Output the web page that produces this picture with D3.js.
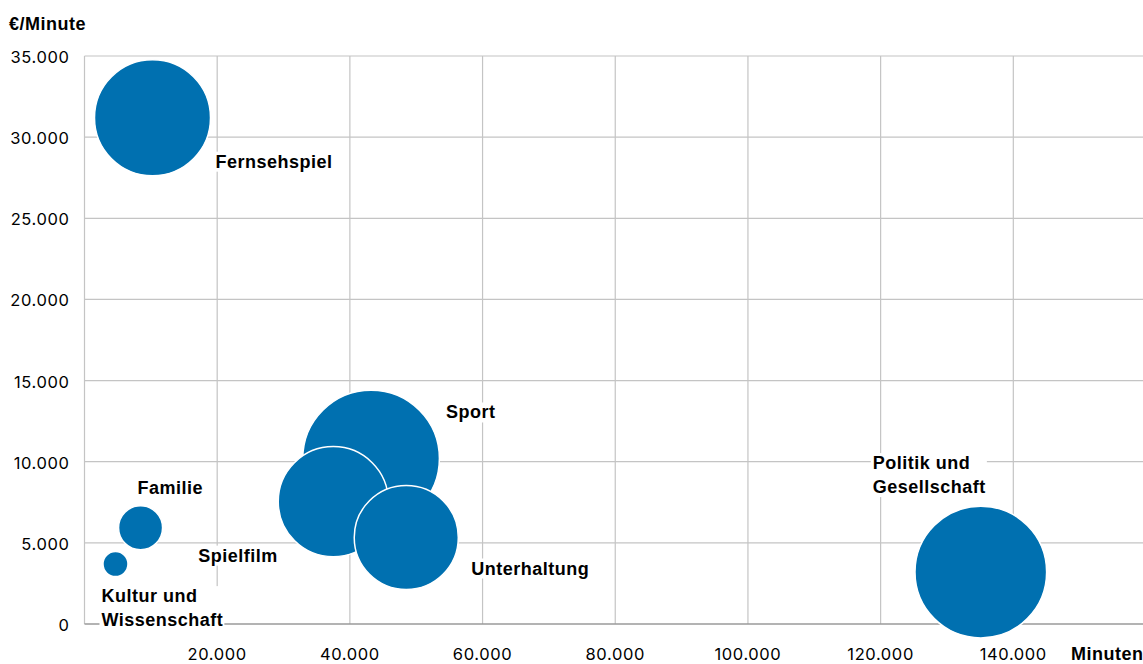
<!DOCTYPE html>
<html>
<head>
<meta charset="utf-8">
<script src="https://cdn.jsdelivr.net/npm/d3@7"></script>
<style>
  body { margin: 0; background: #fff; }
  svg { display: block; font-family: "Liberation Sans", Arial, Helvetica, sans-serif; }
  .tick { font-family: Inter, "Liberation Sans", sans-serif; font-size: 16.5px; letter-spacing: 0.6px; fill: #000; }
  .lbl { font-size: 18px; font-weight: bold; letter-spacing: 0.5px; fill: #000; }
</style>
</head>
<body>
<svg id="chart" width="1143" height="664"></svg>
<script>
// data
const genres = ["Sport", "Fernsehspiel", "Politik und Gesellschaft", "Spielfilm", "Unterhaltung", "Familie", "Kultur und Wissenschaft"];
const minutes = [43200, 10250, 135100, 37500, 48500, 8450, 4670];
const euroPerMinute = [10200, 31200, 3200, 7540, 5330, 5930, 3690];
const budget = [448, 323, 416, 291, 260, 46.5, 15]; // bubble size
const xTicks = [20000, 40000, 60000, 80000, 100000, 120000, 140000];
const yTicks = [0, 5000, 10000, 15000, 20000, 25000, 30000, 35000];

// label offsets from bubble centre (px)
const labelOffsets = [[75, -40], [63, 50], [-108, -103], [-135, 60], [65, 37], [-3, -34], [-14, 38]];

const svg = d3.select("#chart");
const blue = "#0070b0";

const x = d3.scaleLinear().domain([0, 160000]).range([84.5, 1146]);
const y = d3.scaleLinear().domain([0, 35000]).range([624, 56]);
const r = d3.scaleSqrt().domain([0, 448]).range([0, 68.3]);

const fmt = d3.formatLocale({ decimal: ",", thousands: ".", grouping: [3], currency: ["", "€"] }).format(",d");

// grid
const grid = svg.append("g");
grid.selectAll(".vgrid")
  .data(d3.range(0, 160001, 20000))
  .join("line")
  .attr("x1", d => x(d)).attr("x2", d => x(d))
  .attr("y1", y(35000)).attr("y2", y(0))
  .attr("stroke", "#c4c4c4").attr("stroke-width", 1.2);
grid.selectAll(".hgrid")
  .data(yTicks.filter(d => d > 0))
  .join("line")
  .attr("x1", x(0)).attr("x2", 1146)
  .attr("y1", d => y(d)).attr("y2", d => y(d))
  .attr("stroke", "#c4c4c4").attr("stroke-width", 1.2);
grid.append("line")
  .attr("x1", x(0)).attr("x2", 1146)
  .attr("y1", y(0)).attr("y2", y(0))
  .attr("stroke", "#9a9a9a").attr("stroke-width", 1.5);

// tick labels
svg.append("g").selectAll("text")
  .data(yTicks)
  .join("text")
  .attr("class", "tick")
  .attr("x", 69.5)
  .attr("y", d => y(d) + 7)
  .attr("text-anchor", "end")
  .text(d => fmt(d));

svg.append("g").selectAll("text")
  .data(xTicks)
  .join("text")
  .attr("class", "tick")
  .attr("x", d => x(d))
  .attr("y", 659.5)
  .attr("text-anchor", "middle")
  .text(d => fmt(d));

// axis titles
svg.append("text")
  .attr("class", "lbl")
  .attr("x", 9).attr("y", 29.5)
  .text("€/Minute");
svg.append("text")
  .attr("class", "lbl")
  .attr("x", 1071).attr("y", 660)
  .text("Minuten");

// bubbles
svg.append("g").selectAll("circle")
  .data(genres.map((g, i) => ({ g, i })))
  .join("circle")
  .attr("cx", d => x(minutes[d.i]))
  .attr("cy", d => y(euroPerMinute[d.i]))
  .attr("r", d => r(budget[d.i]))
  .attr("fill", blue)
  .attr("stroke", "#fff")
  .attr("stroke-width", 1.5);

// labels with white boxes
const labels = svg.append("g");
genres.forEach((g, i) => {
  const lx = x(minutes[i]) + labelOffsets[i][0];
  const ly = y(euroPerMinute[i]) + labelOffsets[i][1];
  const lg = labels.append("g");
  const bg = lg.append("rect").attr("fill", "#fff");
  const t = lg.append("text")
    .attr("class", "lbl")
    .attr("x", lx).attr("y", ly);
  const parts = g.split(" und ");
  if (parts.length > 1) {
    t.append("tspan").attr("x", lx).text(parts[0] + " und");
    t.append("tspan").attr("x", lx).attr("dy", 24).text(parts[1]);
  } else {
    t.text(g);
  }
  const b = t.node().getBBox();
  bg.attr("x", b.x - 2).attr("y", b.y).attr("width", b.width + 3).attr("height", b.height);
});
</script>
</body>
</html>
